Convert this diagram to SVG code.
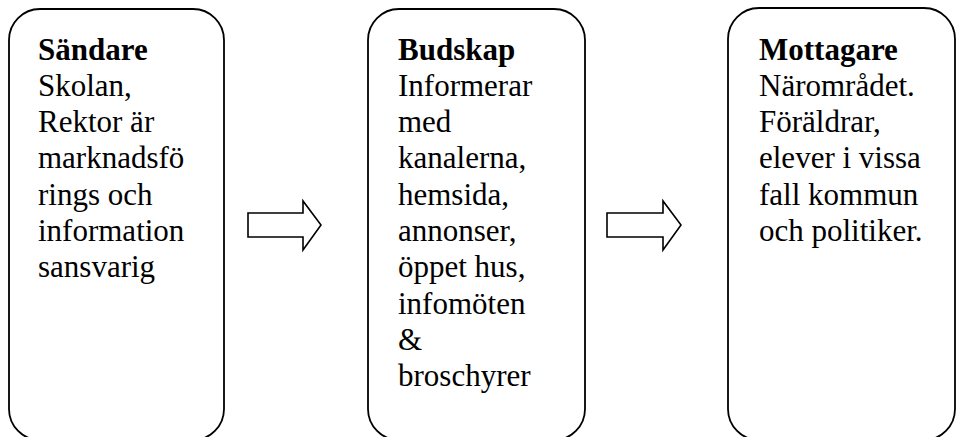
<svg xmlns="http://www.w3.org/2000/svg" width="957" height="437" viewBox="0 0 957 437">
  <style>
    .box { fill: #ffffff; stroke: #000000; stroke-width: 1.8; }
    .arrow { fill: #ffffff; stroke: #000000; stroke-width: 1.6; stroke-linejoin: miter; }
  </style>
  <rect width="957" height="437" fill="#ffffff"/>

  <!-- block arrows between the stages -->
  <g id="connectors">
    <polygon class="arrow" points="248,213 303,213 303,201 321,225 303,250 303,237 248,237"/>
    <polygon class="arrow" points="607,213 663,213 663,201 681,225 663,250 663,237 607,237"/>
  </g>

  <g id="sandare" font-family="Liberation Serif" font-size="31" fill="#000000">
    <rect class="box" x="9" y="9" width="215" height="431" rx="31" ry="31"/>
    <text x="38" y="59.5" font-weight="bold">Sändare</text>
    <text x="38" y="95.8">Skolan,</text>
    <text x="38" y="132.1">Rektor är</text>
    <text x="38" y="168.4">marknadsfö</text>
    <text x="38" y="204.7">rings och</text>
    <text x="38" y="241">information</text>
    <text x="38" y="277.3">sansvarig</text>
  </g>

  <g id="budskap" font-family="Liberation Serif" font-size="31" fill="#000000">
    <rect class="box" x="368" y="9" width="217" height="431" rx="31" ry="31"/>
    <text x="398" y="59.5" font-weight="bold">Budskap</text>
    <text x="398" y="95.8">Informerar</text>
    <text x="398" y="132.1">med</text>
    <text x="398" y="168.4">kanalerna,</text>
    <text x="398" y="204.7">hemsida,</text>
    <text x="398" y="241">annonser,</text>
    <text x="398" y="277.3">öppet hus,</text>
    <text x="398" y="313.6">infomöten</text>
    <text x="398" y="349.9">&amp;</text>
    <text x="398" y="386.2">broschyrer</text>
  </g>

  <g id="mottagare" font-family="Liberation Serif" font-size="31" fill="#000000">
    <rect class="box" x="728" y="8" width="227" height="432" rx="31" ry="31"/>
    <text x="759" y="59.5" font-weight="bold">Mottagare</text>
    <text x="759" y="95.8">Närområdet.</text>
    <text x="759" y="132.1">Föräldrar,</text>
    <text x="759" y="168.4">elever i vissa</text>
    <text x="759" y="204.7">fall kommun</text>
    <text x="759" y="241">och politiker.</text>
  </g>
</svg>
